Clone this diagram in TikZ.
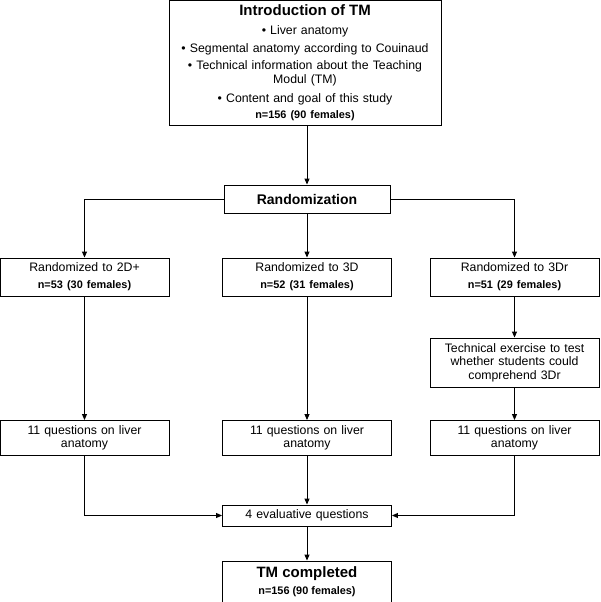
\documentclass[tikz,border=0pt]{standalone}
\usepackage{fontspec}
\setmainfont{Liberation Sans}
\usetikzlibrary{arrows.meta,positioning,calc}

\begin{document}
\begin{tikzpicture}[x=1pt, y=-1pt, font=\fontsize{12.3}{13.5}\selectfont, >={Triangle[length=6pt,width=5pt]}]
\tikzset{box/.style={draw, line width=0.9pt, align=center, inner sep=2pt}, colbox/.style={box, minimum width=169pt, text width=162pt}, flow/.style={->, line width=0.9pt}}
\newcommand{\nfem}[1]{{\fontsize{10.9}{12}\selectfont\bfseries #1}}
\useasboundingbox (0,0) rectangle (600,602);
\node[box, minimum width=272pt, minimum height=125pt, text width=264pt] (intro) at (305,62.5) {{\fontsize{15}{17}\selectfont\bfseries Introduction of TM}\\[5.5pt] • Liver anatomy\\[4pt] • Segmental anatomy according to Couinaud\\[4pt] • Technical information about the Teaching\\ Modul (TM)\\[5.5pt] • Content and goal of this study\\[2.5pt] \nfem{n=156 (90 females)}};
\node[box, minimum width=166pt, minimum height=28pt] (rand) at (307,199) {\fontsize{14}{16}\selectfont\bfseries Randomization};
% groups
\node[colbox, minimum height=38pt] (grpA) at (84.5,277) {Randomized to 2D+\\[3.5pt] \nfem{n=53 (30 females)}};
\node[colbox, minimum height=38pt] (grpB) at (307,277) {Randomized to 3D\\[3.5pt] \nfem{n=52 (31 females)}};
\node[colbox, minimum height=38pt] (grpC) at (514.5,277) {Randomized to 3Dr\\[3.5pt] \nfem{n=51 (29 females)}};
\node[colbox, minimum height=49pt] (tech) at (514.5,362.5) {Technical exercise to test\\ whether students could\\ comprehend 3Dr};
% questions
\node[colbox, minimum height=35pt] (qA) at (84.5,438) {11 questions on liver\\ anatomy};
\node[colbox, minimum height=35pt] (qB) at (307,438) {11 questions on liver\\ anatomy};
\node[colbox, minimum height=35pt] (qC) at (514.5,438) {11 questions on liver\\ anatomy};
\node[colbox, minimum height=21pt] (eval) at (307,515.5) {4 evaluative questions};
\node[box, minimum width=169pt, minimum height=41pt] (done) at (307,581.5) {{\fontsize{15}{17}\selectfont\bfseries TM completed}\\[3.5pt] \nfem{n=156 (90 females)}};
\draw[flow] (rand.north |- intro.south) -- (rand.north);
\draw[flow] (rand.west) -| (grpA.north);
\draw[flow] (rand.east) -| (grpC.north);
\foreach \a/\b in {rand/grpB,grpA/qA,grpB/qB,grpC/tech,tech/qC,qB/eval,eval/done} \draw[flow] (\a)--(\b);
\draw[flow] (qA.south) |- (eval.west);
\draw[flow] (qC.south) |- (eval.east);
\end{tikzpicture}
\end{document}
